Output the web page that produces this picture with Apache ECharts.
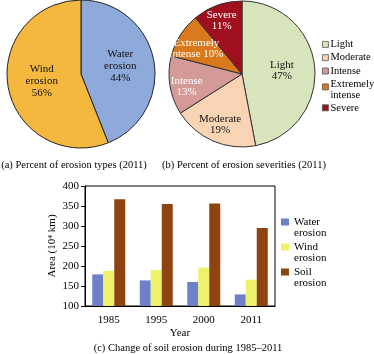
<!DOCTYPE html>
<html>
<head>
<meta charset="utf-8">
<script src="https://cdn.jsdelivr.net/npm/echarts@6/dist/echarts.min.js"></script>
<style>
  html, body { margin: 0; padding: 0; background: #fff; }
  #chart { width: 374px; height: 354px; }
</style>
</head>
<body>
<div id="chart"></div>
<script>
// (a) erosion types, 2011 (%)
const typeNames = ['Water\nerosion', 'Wind\nerosion'];
const typeShares = [44, 56];

// (b) erosion severities, 2011 (%)
const severityNames = ['Light', 'Moderate', 'Intense', 'Extremely\nintense', 'Severe'];
const severityShares = [47, 19, 13, 10, 11];

// (c) eroded area by year (10^4 km)
const years = ['1985', '1995', '2000', '2011'];
const waterArea = [179, 164, 160, 129];
const windArea = [188, 190, 196, 166];
const soilArea = [367, 355, 356, 295];
const areaTicks = [100, 150, 200, 250, 300, 350, 400];

const FONT = "'Liberation Serif', 'Times New Roman', serif";
const typeColors = ['#8eaadb', '#f4b83f'];
const severityColors = ['#d8e4bc', '#f9d4b4', '#d49a98', '#d9781c', '#a00f1e'];
const severityLabelColors = ['#111', '#111', '#fff', '#fff', '#fff'];
const barColors = ['#6d80c8', '#eef26a', '#8e4310'];

// label placement tweaks for panel (b): distance from centre, extra vertical nudge (px)
const severityLabelR = [37, 52, 53, 51, 57];
const severityLabelNudge = [0, 0, 4, 4, 3];
const pieBR = 73;

const chart = echarts.init(document.getElementById('chart'));

function severityLabelShift(idx) {
    const total = severityShares.reduce((a, b) => a + b, 0);
    let before = 0;
    for (let i = 0; i < idx; i++) before += severityShares[i];
    const mid = (before + severityShares[idx] / 2) / total * Math.PI * 2;
    const extra = severityLabelR[idx] - pieBR / 2;
    return { dx: Math.sin(mid) * extra, dy: -Math.cos(mid) * extra + severityLabelNudge[idx] };
}

const option = {
    animation: false,
    textStyle: { fontFamily: FONT, color: '#000' },
    legend: [
        {
            orient: 'vertical',
            left: 322,
            top: 38.5,
            padding: 0,
            itemWidth: 6,
            itemHeight: 11,
            itemGap: 1.5,
            data: severityNames.map((n, i) => ({
                name: n,
                icon: i === 3 ? 'path://M0,0h6v6h-6zM6,11' : 'path://M0,0M0,2.5h6v6h-6zM6,11'
            })),
            itemStyle: { borderColor: '#555', borderWidth: 0.8 },
            textStyle: { fontFamily: FONT, fontSize: 10.5, lineHeight: 11, color: '#000', padding: [0, 0, 0, -3] }
        },
        {
            orient: 'vertical',
            left: 281,
            top: 216.5,
            padding: 0,
            itemWidth: 8,
            itemHeight: 22,
            itemGap: 3,
            icon: 'path://M0,0M0,2h8v7h-8zM8,22',
            data: ['Water\nerosion', 'Wind\nerosion', 'Soil\nerosion'],
            textStyle: { fontFamily: FONT, fontSize: 11, lineHeight: 11, color: '#000' }
        }
    ],
    grid: {
        show: true,
        left: 85, right: 99, top: 186, bottom: 48,
        borderColor: '#000', borderWidth: 1
    },
    xAxis: {
        type: 'category',
        data: years,
        name: 'Year',
        nameLocation: 'middle',
        nameGap: 22,
        nameMoveOverlap: false,
        nameTextStyle: { fontFamily: FONT, fontSize: 11, color: '#000' },
        axisLine: { lineStyle: { color: '#000' } },
        axisTick: { length: 4, lineStyle: { color: '#000' } },
        axisLabel: { fontFamily: FONT, fontSize: 11, color: '#000', margin: 9 }
    },
    yAxis: {
        type: 'value',
        min: areaTicks[0],
        max: areaTicks[areaTicks.length - 1],
        interval: areaTicks[1] - areaTicks[0],
        name: 'Area (10\u2074 km)',
        nameLocation: 'middle',
        nameGap: 27,
        nameMoveOverlap: false,
        nameTextStyle: { fontFamily: FONT, fontSize: 11, color: '#000' },
        axisLine: { show: true, lineStyle: { color: '#000' } },
        axisTick: { show: true, length: 4, lineStyle: { color: '#000' } },
        axisLabel: { fontFamily: FONT, fontSize: 11, color: '#000', margin: 6 },
        splitLine: { show: false }
    },
    graphic: [
        { type: 'text', x: 74, y: 165, style: { text: '(a) Percent of erosion types (2011)', font: '10.5px ' + FONT, fill: '#000', align: 'center', verticalAlign: 'middle' } },
        { type: 'text', x: 244, y: 165, style: { text: '(b) Percent of erosion severities (2011)', font: '10.5px ' + FONT, fill: '#000', align: 'center', verticalAlign: 'middle' } },
        { type: 'text', x: 188, y: 348, style: { text: '(c) Change of soil erosion during 1985\u20132011', font: '10.5px ' + FONT, fill: '#000', align: 'center', verticalAlign: 'middle' } }
    ],
    series: [
        {
            type: 'pie',
            center: [81, 74],
            radius: 74,
            startAngle: 90,
            legendHoverLink: false,
            itemStyle: { borderColor: '#222', borderWidth: 1 },
            label: {
                position: 'inside',
                fontFamily: FONT, fontSize: 11, lineHeight: 12, color: '#111',
                formatter: p => p.name + '\n' + p.value + '%'
            },
            data: typeNames.map((n, i) => ({ name: n, value: typeShares[i], itemStyle: { color: typeColors[i] } }))
        },
        {
            type: 'pie',
            center: [242, 74],
            radius: pieBR,
            startAngle: 90,
            itemStyle: { borderColor: '#333', borderWidth: 1 },
            label: {
                position: 'inside',
                fontFamily: FONT, fontSize: 11, lineHeight: 11,
                formatter: p => p.dataIndex === 3 ? p.name + ' ' + p.value + '%' : p.name + '\n' + p.value + '%'
            },
            labelLayout: p => severityLabelShift(p.dataIndex),
            data: severityNames.map((n, i) => ({
                name: n, value: severityShares[i],
                itemStyle: { color: severityColors[i] },
                label: { color: severityLabelColors[i] }
            }))
        },
        { type: 'bar', name: 'Water\nerosion', data: waterArea, barWidth: 11, barGap: '0%', itemStyle: { color: barColors[0] } },
        { type: 'bar', name: 'Wind\nerosion', data: windArea, barWidth: 11, barGap: '0%', itemStyle: { color: barColors[1] } },
        { type: 'bar', name: 'Soil\nerosion', data: soilArea, barWidth: 11, barGap: '0%', itemStyle: { color: barColors[2] } }
    ]
};

chart.setOption(option);
</script>
</body>
</html>
